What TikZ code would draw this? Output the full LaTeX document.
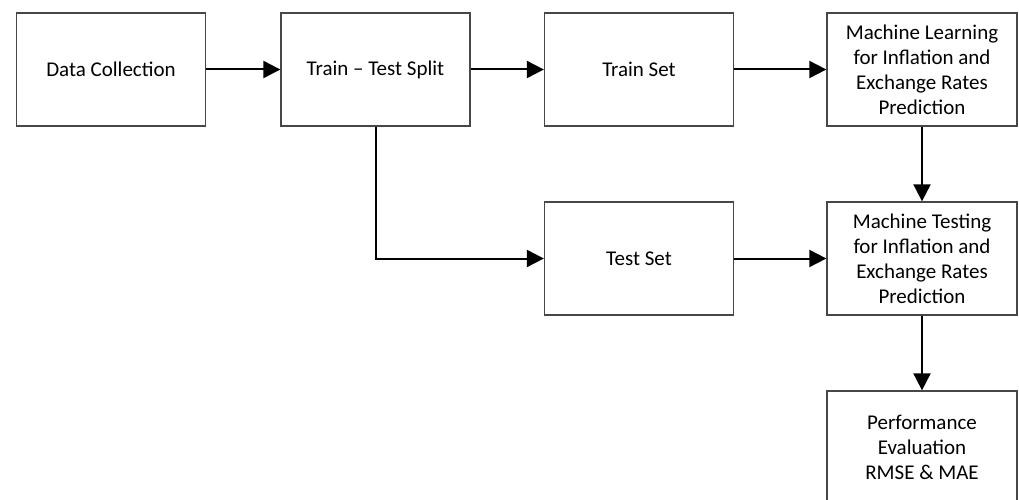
\documentclass[tikz,border=0pt]{standalone}
\usepackage{fontspec}
\setmainfont{Carlito}
\usetikzlibrary{arrows.meta}
\begin{document}
\begin{tikzpicture}[x=1pt,y=-1pt,
  box/.style={draw=black!72, line width=1.3pt, minimum width=189pt, minimum height=113pt,
    align=center, inner sep=0pt, font=\fontsize{21}{25}\selectfont},
  arr/.style={line width=2pt, -{Triangle[length=17pt,width=17pt]}}]
\useasboundingbox (0,0) rectangle (1019,500);
\clip (0,0) rectangle (1019,500);
\fill[white] (0,0) rectangle (1019,500);
\node[box] (dc) at (111,69.5) {Data Collection};
\node[box] (split) at (375.5,69.5) {Train – Test Split};
\node[box] (train) at (639,69.5) {Train Set};
\node[box, minimum width=190pt] (ml) at (922,69.5) {Machine Learning\\for Inflation and\\Exchange Rates\\Prediction};
\node[box] (test) at (639,258.5) {Test Set};
\node[box, minimum width=190pt] (mt) at (922,258.5) {Machine Testing\\for Inflation and\\Exchange Rates\\Prediction};
\node[box, minimum width=190pt] (pe) at (922,447.5) {Performance\\Evaluation\\RMSE \& MAE};
\draw[arr] (dc) -- (split);
\draw[arr] (split) -- (train);
\draw[arr] (train) -- (ml);
\draw[arr] (ml) -- (mt);
\draw[arr] (test) -- (mt);
\draw[arr] (mt) -- (pe);
\draw[arr] (split.south) |- (test.west);
\end{tikzpicture}
\end{document}
